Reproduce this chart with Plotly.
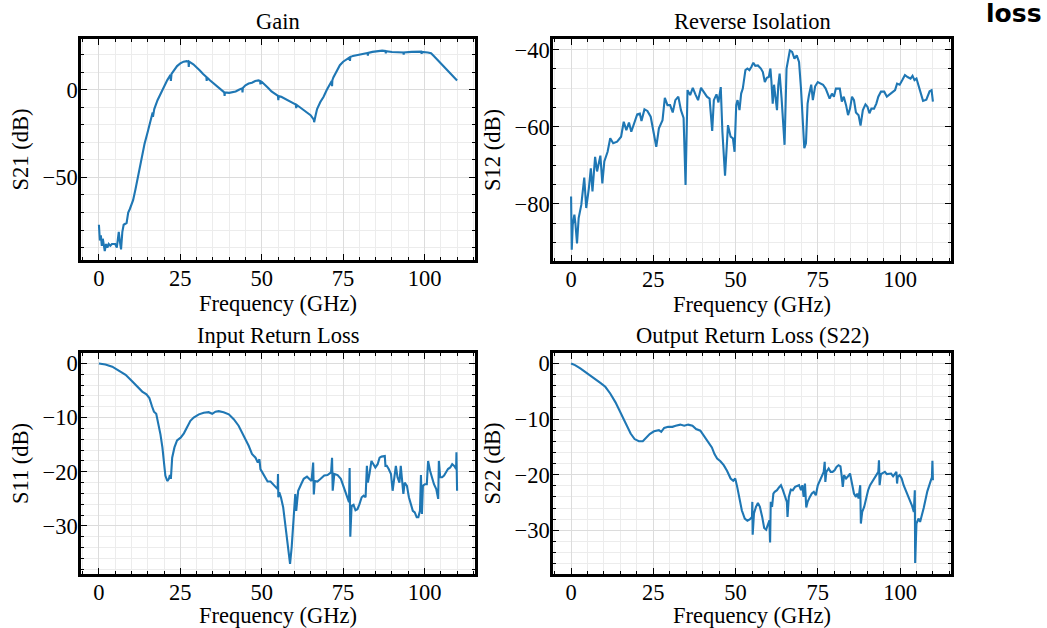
import plotly.graph_objects as go

# ---------------- data ----------------
gain_freq = [0, 0.3, 0.6, 0.9, 1.2, 1.5, 1.8, 2.2, 2.6, 3.0,
             3.5, 4.0, 4.5, 5.0, 5.5, 5.8, 6.1, 6.4, 6.8, 7.2,
             7.6, 8.5, 9.0, 9.5, 10.5, 11.2, 12, 13, 14, 15,
             16, 16.5, 16.6, 16.7, 17, 18, 19, 20, 21, 22,
             22.1, 22.3, 23, 24, 25, 26, 27, 27.5, 27.6, 27.7,
             29, 30, 31, 32, 33, 33.1, 33.2, 34, 35, 36,
             37, 38, 38.5, 38.6, 38.7, 40, 41, 42, 43, 44,
             44.1, 44.2, 45, 46, 47, 48, 49, 49.5, 49.6, 49.7,
             50, 51, 52, 53, 54, 55, 55.1, 55.2, 56, 57,
             58, 59, 60, 60.5, 60.6, 60.7, 61, 62, 63, 64,
             65, 66, 66.1, 66.5, 67, 68, 69, 70, 71, 71.5,
             71.6, 71.7, 72, 73, 74, 75, 76, 77, 77.1, 77.2,
             78, 80, 82, 82.5, 82.6, 82.7, 84, 86, 87, 88,
             88.1, 88.2, 90, 92, 93.5, 93.6, 93.7, 96, 98, 99,
             99.1, 99.2, 101, 102, 103, 104, 106, 108, 110]
gain_db = [-77, -86, -83, -89, -85, -88, -92, -88, -90, -88,
           -89, -88, -88, -88, -90, -85, -81, -86, -91, -81,
           -77, -76, -70, -68, -63, -57, -49, -40, -31, -24,
           -17, -13, -15.5, -13, -11, -6, -2, 2, 5.5, 8.5,
           5, 9, 11, 13.5, 15, 16, 16.3, 16, 13, 16,
           14.5, 13, 11, 9, 7.3, 5, 7, 5.5, 4, 2.5,
           1, -0.5, -1.5, -3.5, -1.5, -1.8, -1.5, -1, 0, 0.8,
           -1.5, 1, 2.5, 3.5, 4, 5, 5.3, 5, 3, 4.8,
           4.5, 3, 1, -1, -2.5, -3.5, -6, -3.6, -4, -5,
           -5.8, -6.8, -7.8, -8.5, -10.5, -8.6, -9, -10.5, -11.5, -13,
           -14.5, -17, -18.5, -15, -11, -7, -4, 0, 3.5, 5,
           2, 5.5, 7, 11, 14, 16, 17.5, 18.5, 16.5, 18.6,
           19.3, 20, 20.8, 21, 19.5, 21, 21.6, 22.2, 22.3, 22.1,
           20.8, 22, 21.5, 21.3, 21.2, 20, 21.2, 21.6, 21.8, 21.7,
           20.5, 21.6, 21.2, 20.8, 19, 17, 13.5, 9.5, 5.3]

s12_freq = [0, 0.2, 0.5, 1, 1.3, 1.8, 2.3, 3.1, 4.0, 4.6,
            5.4, 6, 6.5, 7.3, 7.9, 8.9, 9.5, 10.1, 11.1, 11.9,
            12.8, 14, 15.2, 16, 16.8, 17.6, 18.3, 19.3, 20.1, 20.9,
            21.4, 22.3, 23.2, 24.2, 25, 25.9, 26.7, 27.8, 28.5, 29.3,
            30.1, 30.9, 31.7, 32.6, 33.4, 34.2, 34.8, 35.4, 36.2, 37,
            37.8, 38.6, 39.5, 40.3, 41.3, 42.1, 42.9, 43.4, 44.2, 44.8,
            45.5, 46, 46.8, 47.7, 48.5, 49.2, 49.7, 50.2, 50.6, 51.2,
            51.7, 52.2, 53, 53.6, 54.2, 54.8, 55.4, 56, 56.8, 57.7,
            58.3, 58.9, 59.5, 60.1, 60.6, 60.9, 61.3, 61.7, 62.1, 62.6,
            63, 63.4, 64, 64.5, 64.9, 65.5, 66, 66.5, 67.2, 67.9,
            68.6, 69.3, 69.9, 70.5, 70.9, 71.4, 71.9, 72.3, 73, 73.5,
            74.2, 75, 75.8, 76.6, 77.4, 78, 78.6, 79.3, 79.9, 80.5,
            81.7, 82.3, 82.9, 83.6, 84.2, 84.8, 85.4, 86, 86.6, 87.4,
            88, 88.7, 89.5, 90.1, 90.7, 91.3, 92.1, 92.8, 93.4, 94.2,
            95.2, 96, 96.8, 97.7, 98.5, 99.1, 99.9, 100.7, 101.5, 102.3,
            103.2, 103.8, 104.4, 105, 106, 107, 108, 109, 109.6, 110]
s12_db = [-78.1, -91.9, -85.4, -82.8, -85, -90.3, -83.7, -80.3, -73.2, -81.1,
          -76, -70.8, -76.8, -67.8, -71.6, -67.5, -74.7, -69, -66.5, -63,
          -64.3, -63.9, -62.6, -58.7, -60.9, -58.9, -61.3, -58.7, -56.8, -56.6,
          -58.5, -55.5, -55.9, -57.4, -61.3, -65.2, -60.4, -58.3, -52.5, -54.4,
          -54.4, -56.3, -53.1, -52.2, -55.7, -57.7, -75.1, -50.5, -51.8, -49.9,
          -51.6, -53.1, -49.9, -50.8, -52.2, -52.7, -61.1, -53.1, -51.6, -53.7,
          -49.7, -61.3, -72.7, -59.6, -62.6, -63, -66.5, -54.4, -53.1, -55.7,
          -51.4, -50.1, -45.3, -44.9, -45.3, -44.5, -43.4, -44.2, -44.1, -44.9,
          -45.8, -48.4, -47.3, -47.1, -44.9, -48.2, -54, -49.1, -52.7, -55.7,
          -49.1, -46.2, -52.7, -58.7, -64.7, -44.9, -42.3, -40.2, -40.6, -42.3,
          -41.5, -43.2, -50.1, -58.7, -65.6, -64.3, -54, -51.9, -49.1, -53.1,
          -49.5, -48.4, -48.8, -49.1, -50.1, -51.4, -52.7, -51.4, -52.2, -50.1,
          -50.1, -53.5, -52.2, -54.4, -57, -55.3, -52.2, -53.1, -56.3, -57,
          -59.7, -55.7, -54.2, -54.8, -56.5, -55.3, -55.3, -54, -52.2, -50.9,
          -50.9, -52.2, -51.6, -50.9, -50.5, -48.8, -49.1, -47.9, -46.6, -47.1,
          -47.5, -46.8, -47.9, -47.5, -50.5, -53.3, -53, -50.8, -50.5, -53.5]

s11_freq = [0, 2, 4.1, 6.1, 8.2, 10.2, 11.8, 13.3, 14.6, 15.5,
            16.3, 16.9, 17.6, 18.2, 18.9, 19.5, 19.9, 20.4, 21, 21.5,
            21.8, 22.1, 22.5, 23.2, 24, 25.1, 26.1, 27.1, 28.1, 29.1,
            30.7, 32.2, 33.7, 34.8, 35.8, 36.8, 38.3, 39.9, 41.4, 42.9,
            44.5, 46, 47, 48.1, 48.8, 49.3, 49.6, 50.4, 51.2, 51.8,
            52.7, 53.5, 54.2, 54.9, 55, 55.1, 55.4, 55.9, 56.6, 57.2,
            58, 58.7, 59.2, 59.7, 60, 60.3, 60.6, 61.2, 62.1, 62.9,
            63.9, 64.7, 65.3, 65.8, 66, 66.3, 67.1, 68.1, 69.2, 70.2,
            71.3, 71.6, 71.8, 72.3, 73.3, 74.3, 75.3, 76.2, 76.8, 77,
            77.2, 77.6, 78.2, 78.8, 79.4, 80, 80.7, 81.3, 81.9, 82.3,
            82.6, 83.1, 83.7, 84.3, 84.9, 85.6, 86.2, 86.8, 87.4, 87.8,
            88, 88.4, 89, 89.7, 90.2, 90.7, 91.2, 91.7, 92.3, 92.7,
            93.1, 93.5, 93.9, 94.6, 95.2, 95.8, 96.4, 97, 97.6, 98.1,
            98.6, 98.9, 99.2, 99.5, 100.1, 100.7, 101.1, 101.7, 102.3, 102.9,
            103.6, 104.2, 104.4, 104.8, 105.4, 106, 106.6, 107.2, 107.9, 108.5,
            109.1, 109.7, 109.8, 110]
s11_db = [0, -0.2, -0.6, -1.3, -2.1, -3.3, -4.2, -5.2, -5.7, -6.4,
          -7.9, -8.9, -9.3, -10.9, -13.1, -15.5, -18, -20.7, -21.7, -21.3,
          -20.6, -21.3, -17.4, -15.5, -14.2, -13.7, -12.9, -11.8, -10.6, -10,
          -9.4, -9.1, -9, -9.3, -8.9, -8.8, -9, -9.4, -10.3, -11.5,
          -13.4, -15.2, -16.7, -17.4, -18.3, -17.7, -19.5, -20.4, -21.3, -21.8,
          -21.8, -22.3, -22.9, -23.2, -20.4, -24.7, -23.8, -24.7, -26.6, -29.6,
          -33.3, -37, -33.9, -29.6, -27.8, -24.1, -27.2, -23.5, -22.3, -21.3,
          -20.9, -21.3, -21.7, -18.3, -24.2, -21.7, -21.8, -21.3, -20.7, -20.6,
          -20.1, -17.4, -23.5, -20.4, -20.6, -21.3, -22.9, -24.7, -25.6, -19.3,
          -32, -26.3, -26.1, -27.1, -26.9, -26, -24.7, -24.4, -24.7, -18.9,
          -22, -20.4, -18, -18.6, -19.2, -18.6, -17.4, -17.2, -17.2, -17.1,
          -18.9, -18.9, -19.5, -20.4, -23.5, -21, -18.9, -21, -22, -18.9,
          -21, -24.1, -22, -22.6, -24.7, -26, -27.2, -27.5, -28.4, -28.4,
          -27.2, -20.6, -27.8, -22.6, -22.3, -22.3, -18, -19.8, -21, -22.3,
          -23.2, -25, -18, -21, -21, -20.7, -20.1, -19.5, -19.2, -18.6,
          -18.9, -19.5, -16.4, -23.5]

s22_freq = [0, 1.2, 2.8, 4.3, 5.8, 7.3, 8.9, 10.4, 11.9, 13.5,
            15, 16.5, 18.1, 19.3, 20.6, 21.8, 22.9, 23.9, 25.2, 26.7,
            27.4, 28.3, 29.5, 30.8, 31.8, 33.2, 34.4, 35.6, 36.9, 38,
            39.3, 40.5, 41.7, 42.8, 43.6, 44.4, 45.4, 46.4, 47.4, 48.5,
            49.3, 49.9, 50.5, 51.2, 51.9, 52.8, 53.6, 54.4, 55, 55.1,
            55.2, 55.6, 56.2, 56.8, 57.4, 58.1, 58.7, 59.3, 59.9, 60.3,
            60.5, 60.7, 61.1, 61.5, 61.9, 62.6, 63.2, 63.8, 64.4, 65,
            65.6, 65.8, 66.2, 66.8, 67.4, 68.1, 68.7, 69.3, 69.9, 70.3,
            70.7, 71.1, 71.5, 71.9, 72.6, 73.2, 73.8, 74.4, 75, 75.6,
            76.2, 76.8, 77.1, 77.3, 77.6, 78.3, 78.9, 79.5, 80.1, 80.7,
            81.3, 81.9, 82.3, 82.6, 83, 83.6, 84.2, 84.8, 85.4, 86,
            86.6, 87, 87.4, 87.9, 88.1, 88.5, 89.1, 89.7, 90.3, 90.9,
            91.5, 92.1, 92.8, 93.4, 93.6, 93.8, 94.2, 94.8, 95.4, 96,
            96.6, 97.3, 97.9, 98.5, 98.9, 99.1, 99.3, 99.9, 100.5, 101.1,
            101.7, 102.3, 102.9, 103.6, 104.2, 104.5, 104.6, 105, 105.6, 106.1,
            107.2, 108.3, 109.4, 109.7, 109.85, 110]
s22_db = [0, -0.3, -0.9, -1.5, -2.1, -2.7, -3.5, -4.2, -5.4, -7,
          -8.8, -10.8, -12.6, -13.6, -14, -14, -13.4, -12.7, -12.2, -12,
          -12.3, -11.6, -11.4, -11.4, -11.2, -11, -11.2, -11, -11.2, -11.8,
          -12.1, -13.2, -14.2, -15.1, -16.3, -17.1, -17.6, -18.3, -19.3, -20.7,
          -21.1, -20.7, -22.2, -24.3, -26.4, -27.9, -28.3, -28, -27.6, -24.9,
          -30.8, -27, -25.8, -25.1, -25.8, -27.6, -29.6, -29.9, -29, -28.2,
          -32.2, -24.9, -25.8, -23.4, -23.1, -22.8, -22.3, -21.9, -22.8, -24,
          -24.9, -27.6, -24, -22.7, -22.8, -22.2, -22.1, -21.9, -22.8, -21.9,
          -24, -21.6, -25.9, -24.9, -24, -23.4, -23.1, -23.7, -21.9, -21,
          -20.1, -19.5, -17.7, -21.3, -19.5, -18.9, -19.5, -19.5, -19.2, -18.6,
          -18.3, -18.5, -20.4, -22.2, -20.1, -20.7, -20.3, -19.8, -21.6, -23.4,
          -24, -23.4, -24.3, -21.9, -28.8, -26.7, -25.8, -24.3, -22.8, -21.9,
          -21.3, -20.7, -19.9, -19.5, -17.4, -21.9, -19.9, -19.7, -19.5, -19.9,
          -19.9, -19.8, -20.3, -19.8, -19.5, -21.6, -20.4, -20.1, -20.7, -21.9,
          -22.8, -23.4, -24.3, -25.5, -26.7, -22.8, -35.9, -28.8, -27.9, -28.5,
          -26, -23, -21, -20.5, -17.5, -21]

panel_titles = ["Gain", "Reverse Isolation", "Input Return Loss", "Output Return Loss (S22)"]
y_labels = ["S21 (dB)", "S12 (dB)", "S11 (dB)", "S22 (dB)"]
x_label = "Frequency (GHz)"
x_ticks = [0, 25, 50, 75, 100]

series = [(gain_freq, gain_db), (s12_freq, s12_db), (s11_freq, s11_db), (s22_freq, s22_db)]
for fr, vv in series:
    assert len(fr) == len(vv), (len(fr), len(vv))

# ---------------- layout ----------------
W, H = 1047, 628
def px_x(a, b):
    return [a / W, b / W]
def px_y(top, bottom):
    return [1 - bottom / H, 1 - top / H]

x_domains = [px_x(81, 475), px_x(553, 951), px_x(81, 475), px_x(553, 951)]
y_domains = [px_y(37, 259), px_y(37, 260), px_y(352, 574), px_y(352, 574)]
y_ranges = [[-97.2, 29], [-94.9, -37.2], [-38.9, 1.95], [-37.9, 1.9]]
y_dticks = [50, 20, 10, 10]
y_minor = [10, 5, 2, 2]

SERIF = "Liberation Serif, Times New Roman, serif"
FS = 22.5
LINE_BLUE = "#1f77b4"

fig = go.Figure()
for i, (fr, vv) in enumerate(series):
    sfx = "" if i == 0 else str(i + 1)
    fig.add_trace(go.Scatter(x=fr, y=vv, mode="lines",
                             line=dict(color=LINE_BLUE, width=2.1),
                             xaxis="x" + sfx, yaxis="y" + sfx,
                             showlegend=False, hoverinfo="skip"))

common = dict(
    ticks="inside", ticklen=6, tickwidth=1.2, tickcolor="black",
    showline=True, linewidth=2.7, linecolor="black", mirror="allticks",
    showgrid=True, gridcolor="#dcdcdc", gridwidth=1, zeroline=False,
    tickfont=dict(family=SERIF, size=FS, color="black"),
)

layout = dict(
    width=W, height=H,
    margin=dict(l=0, r=0, t=0, b=0),
    paper_bgcolor="white", plot_bgcolor="white",
    showlegend=False,
)
annotations = []
for i in range(4):
    sfx = "" if i == 0 else str(i + 1)
    layout["xaxis" + sfx] = dict(
        domain=x_domains[i], anchor="y" + sfx, range=[-5.5, 115.5],
        tickmode="array", tickvals=x_ticks,
        minor=dict(dtick=5, tick0=0, ticks="inside", ticklen=3, tickcolor="black",
                   showgrid=True, gridcolor="#ececec", gridwidth=1),
        title=dict(text=x_label, font=dict(family=SERIF, size=FS, color="black"), standoff=4),
        **common)
    layout["yaxis" + sfx] = dict(
        domain=y_domains[i], anchor="x" + sfx, range=y_ranges[i],
        dtick=y_dticks[i], tick0=0,
        minor=dict(dtick=y_minor[i], tick0=0, ticks="inside", ticklen=3, tickcolor="black",
                   showgrid=True, gridcolor="#ececec", gridwidth=1),
        title=dict(text=y_labels[i], font=dict(family=SERIF, size=FS, color="black"), standoff=8),
        **common)
    annotations.append(dict(
        text=panel_titles[i], xref="paper", yref="paper",
        x=sum(x_domains[i]) / 2, y=y_domains[i][1],
        xanchor="center", yanchor="bottom", yshift=3, showarrow=False,
        font=dict(family=SERIF, size=FS, color="black")))

annotations.append(dict(
    text="<b>loss</b>", xref="paper", yref="paper",
    x=1044 / W, y=1 - 12 / H, xanchor="right", yanchor="middle",
    showarrow=False, font=dict(family="DejaVu Sans", size=25, color="black")))

layout["annotations"] = annotations
fig.update_layout(**layout)

# pull tick labels slightly closer to the frame, as in the reference
for i in range(4):
    sfx = "" if i == 0 else str(i + 1)
    for ax in ("xaxis", "yaxis"):
        try:
            fig.layout[ax + sfx].ticklabelstandoff = -4
        except Exception:
            pass

fig.write_html("out.html")
